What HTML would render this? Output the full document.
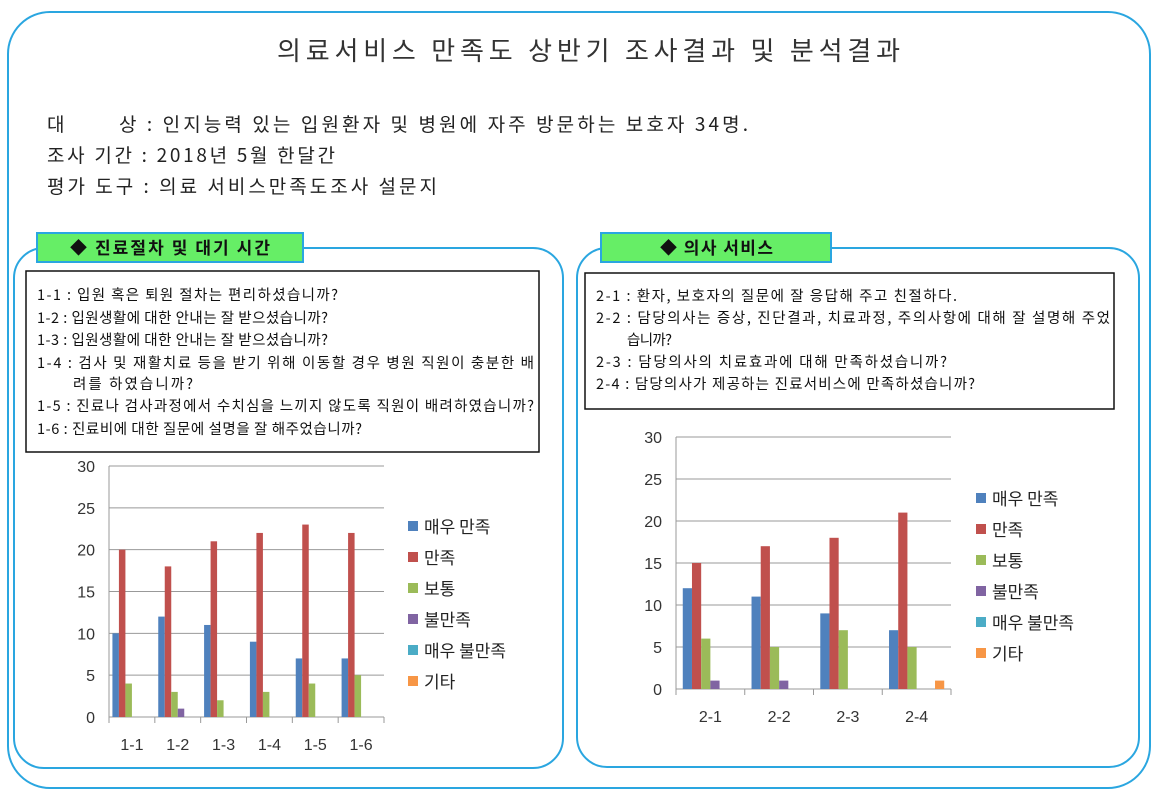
<!DOCTYPE html>
<html><head><meta charset="utf-8"><style>
body{margin:0;background:#fff}
svg{display:block;font-family:"Liberation Sans","Noto Sans CJK KR",sans-serif}
</style></head><body>
<svg id="s" width="1158" height="794" viewBox="0 0 1158 794" xmlns="http://www.w3.org/2000/svg">
<rect x="8" y="12" width="1142" height="776" rx="42" fill="none" stroke="#2aa6e0" stroke-width="2"/>
<text x="277" y="60" textLength="623" lengthAdjust="spacing" font-size="26" fill="#333" font-family="Noto Sans CJK KR, sans-serif">의료서비스 만족도 상반기 조사결과 및 분석결과</text>
<g font-size="19" fill="#222" font-family="Noto Sans CJK KR, sans-serif">
<text x="47" y="131">대</text><text x="119" y="131" textLength="629">상 : 인지능력 있는 입원환자 및 병원에 자주 방문하는 보호자 34명.</text>
<text x="47" y="162" textLength="288">조사 기간 : 2018년 5월 한달간</text>
<text x="47" y="193" textLength="390">평가 도구 : 의료 서비스만족도조사 설문지</text>
</g>
<rect x="14" y="248" width="549" height="520" rx="30" fill="none" stroke="#2aa6e0" stroke-width="2"/>
<rect x="577" y="248" width="562" height="519" rx="30" fill="none" stroke="#2aa6e0" stroke-width="2"/>
<rect x="37" y="233" width="266" height="29" fill="#66ee66" stroke="#2aa6e0" stroke-width="2"/>
<rect x="601" y="233" width="230" height="29" fill="#66ee66" stroke="#2aa6e0" stroke-width="2"/>
<g font-size="17" font-weight="bold" fill="#111" font-family="Noto Sans CJK KR, sans-serif">
<text x="70" y="254" textLength="200">◆ 진료절차 및 대기 시간</text>
<text x="660" y="254" textLength="113">◆ 의사 서비스</text>
</g>
<rect x="26" y="271" width="513" height="181" fill="#fff" stroke="#111" stroke-width="1.5"/>
<rect x="585" y="273" width="529" height="136" fill="#fff" stroke="#111" stroke-width="1.5"/>
<g font-size="14.5" fill="#111" font-family="Noto Sans CJK KR, sans-serif">
<text x="37" y="300" textLength="301">1-1 : 입원 혹은 퇴원 절차는 편리하셨습니까?</text>
<text x="37" y="323" textLength="291">1-2 : 입원생활에 대한 안내는 잘 받으셨습니까?</text>
<text x="37" y="345" textLength="291">1-3 : 입원생활에 대한 안내는 잘 받으셨습니까?</text>
<text x="37" y="368" textLength="497">1-4 : 검사 및 재활치료 등을 받기 위해 이동할 경우 병원 직원이 충분한 배</text>
<text x="73" y="389" textLength="120">려를 하였습니까?</text>
<text x="37" y="411" textLength="497">1-5 : 진료나 검사과정에서 수치심을 느끼지 않도록 직원이 배려하였습니까?</text>
<text x="37" y="434" textLength="325">1-6 : 진료비에 대한 질문에 설명을 잘 해주었습니까?</text>
<text x="596" y="301" textLength="361">2-1 : 환자, 보호자의 질문에 잘 응답해 주고 친절하다.</text>
<text x="596" y="323" textLength="514">2-2 : 담당의사는 증상, 진단결과, 치료과정, 주의사항에 대해 잘 설명해 주었</text>
<text x="627" y="345" textLength="45">습니까?</text>
<text x="596" y="367" textLength="351">2-3 : 담당의사의 치료효과에 대해 만족하셨습니까?</text>
<text x="596" y="389" textLength="379">2-4 : 담당의사가 제공하는 진료서비스에 만족하셨습니까?</text>
</g>
<g id="c"></g>
</svg>
<script>
var c=document.getElementById('c'),h='';
var cols=['#4f81bd','#c0504d','#9bbb59','#8064a2','#4bacc6','#f79646'];
var names=['매우 만족','만족','보통','불만족','매우 불만족','기타'];
function chart(x0,x1,y30,y0,cats,data,bw,lx,ly){
 var k=(y0-y30)/30,cw=(x1-x0)/cats.length,off=(cw-6*bw)/2;
 for(var v=0;v<=30;v+=5){var y=y0-v*k;
  h+='<line x1="'+x0+'" x2="'+x1+'" y1="'+y+'" y2="'+y+'" stroke="#999" stroke-width="1"/>';
  h+='<text x="'+(x0-14)+'" y="'+(y+6)+'" font-size="16" fill="#333" text-anchor="end">'+v+'</text>';}
 h+='<line x1="'+x0+'" x2="'+x0+'" y1="'+y30+'" y2="'+(y0+6)+'" stroke="#999"/>';
 for(var i=0;i<=cats.length;i++){var x=x0+i*cw;h+='<line x1="'+x+'" x2="'+x+'" y1="'+y0+'" y2="'+(y0+6)+'" stroke="#999"/>';}
 cats.forEach(function(cn,i){
  h+='<text x="'+(x0+(i+0.5)*cw)+'" y="'+(y0+33)+'" font-size="16" fill="#333" text-anchor="middle">'+cn+'</text>';
  data[i].forEach(function(v,j){if(!v)return;var bx=x0+i*cw+off+j*bw;
   h+='<rect x="'+bx+'" y="'+(y0-v*k)+'" width="'+bw+'" height="'+(v*k)+'" fill="'+cols[j]+'"/>';});
 });
 for(var j=0;j<6;j++){var y=ly+j*31;
  h+='<rect x="'+lx+'" y="'+(y-6)+'" width="10" height="10" fill="'+cols[j]+'"/>';
  h+='<text x="'+(lx+16)+'" y="'+(y+6)+'" font-size="17" fill="#222" font-family="Noto Sans CJK KR, sans-serif">'+names[j]+'</text>';}
}
chart(109,384,466,717,['1-1','1-2','1-3','1-4','1-5','1-6'],
 [[10,20,4,0,0,0],[12,18,3,1,0,0],[11,21,2,0,0,0],[9,22,3,0,0,0],[7,23,4,0,0,0],[7,22,5,0,0,0]],6.5,408,527);
chart(676,951,437,689,['2-1','2-2','2-3','2-4'],
 [[12,15,6,1,0,0],[11,17,5,1,0,0],[9,18,7,0,0,0],[7,21,5,0,0,1]],9.2,976,499);
c.innerHTML=h;
</script>
</body></html>
